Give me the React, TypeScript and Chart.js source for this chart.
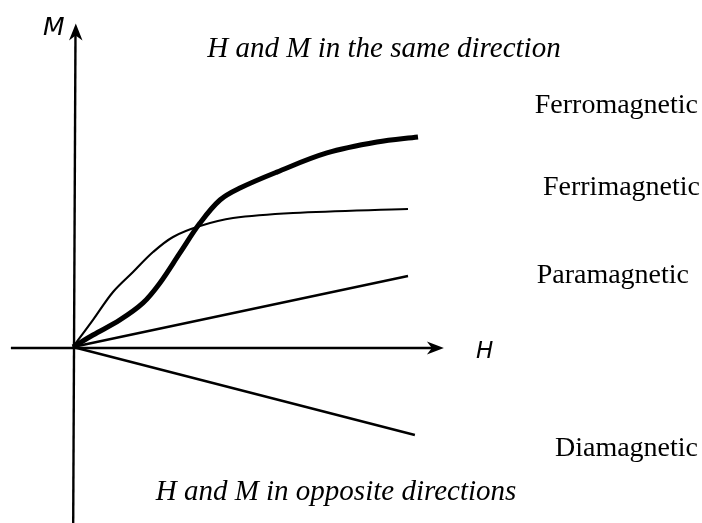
import React, { useEffect, useRef } from "react";
import { Chart, registerables } from "chart.js";

Chart.register(...registerables);

// H (field) and M (magnetization) in arbitrary units, origin at (0,0)
const ferroH = [0, 0.58, 1.36, 2.03, 2.52, 3.1, 3.68, 4.26, 4.84, 5.91, 7.36, 8.81, 10.0];
const ferroM = [0, 0.57, 1.29, 2.1, 3.05, 4.48, 5.9, 7.0, 7.57, 8.33, 9.24, 9.76, 10.0];
const ferriH = [0, 0.58, 1.16, 1.74, 2.32, 2.9, 3.68, 4.64, 6.38, 9.71];
const ferriM = [0, 1.29, 2.62, 3.57, 4.52, 5.24, 5.76, 6.14, 6.38, 6.57];
const paraH = [0, 9.71];
const paraM = [0, 3.38];
const diaH = [0, 9.91];
const diaM = [0, -4.19];

const seriesLabels = ["Ferromagnetic", "Ferrimagnetic", "Paramagnetic", "Diamagnetic"];
const topNote = "H and M in the same direction";
const bottomNote = "H and M in opposite directions";

const toPts = (xs: number[], ys: number[]) => xs.map((x, i) => ({ x, y: ys[i] }));

export default function App() {
  const ref = useRef<HTMLCanvasElement | null>(null);

  useEffect(() => {
    if (!ref.current) return;

    const overlay = {
      id: "overlay",
      afterDraw(chart: any) {
        const { ctx } = chart;
        const xs = chart.scales.x;
        const ys = chart.scales.y;
        const ox = xs.getPixelForValue(0);
        const oy = ys.getPixelForValue(0) + 1;
        ctx.save();
        ctx.strokeStyle = "#000";
        ctx.fillStyle = "#000";
        ctx.lineWidth = 2.4;
        // x axis
        const xl = xs.getPixelForValue(-1.8);
        const xr = xs.getPixelForValue(10.75);
        ctx.beginPath();
        ctx.moveTo(xl, oy);
        ctx.lineTo(xr - 6, oy);
        ctx.stroke();
        ctx.beginPath();
        ctx.moveTo(xr, oy);
        ctx.lineTo(xr - 17, oy - 6.5);
        ctx.lineTo(xr - 12, oy);
        ctx.lineTo(xr - 17, oy + 6.5);
        ctx.closePath();
        ctx.fill();
        // y axis
        const yt = ys.getPixelForValue(15.4);
        const yb = ys.getPixelForValue(-8.4);
        ctx.beginPath();
        ctx.moveTo(ox + 0.2, yb);
        ctx.lineTo(ox + 2.5, yt + 6);
        ctx.stroke();
        ctx.beginPath();
        ctx.moveTo(ox + 2.8, yt);
        ctx.lineTo(ox - 4, yt + 17);
        ctx.lineTo(ox + 2.6, yt + 12);
        ctx.lineTo(ox + 9.5, yt + 17);
        ctx.closePath();
        ctx.fill();

        // axis names
        ctx.textBaseline = "alphabetic";
        ctx.textAlign = "left";
        ctx.font = "italic 25px 'DejaVu Sans', sans-serif";
        ctx.fillText("M", 43, 35);
        ctx.font = "italic 23px 'DejaVu Sans', sans-serif";
        ctx.fillText("H", 476, 358);

        // notes
        ctx.font = "italic 29px 'Liberation Serif', serif";
        ctx.textAlign = "center";
        ctx.fillText(topNote, 384, 57);
        ctx.fillText(bottomNote, 336, 500);

        ctx.font = "28px 'Liberation Serif', serif";
        ctx.textAlign = "right";
        ctx.fillText(seriesLabels[0], 698, 113);
        ctx.fillText(seriesLabels[1], 700, 195);
        ctx.fillText(seriesLabels[2], 689, 283);
        ctx.fillText(seriesLabels[3], 698, 456);
        ctx.restore();
      },
    };

    const chart = new Chart(ref.current, {
      type: "scatter",
      data: {
        datasets: [
          {
            label: seriesLabels[0],
            data: toPts(ferroH, ferroM),
            showLine: true,
            borderColor: "#000",
            borderWidth: 5,
            pointRadius: 0,
            tension: 0.35,
          },
          {
            label: seriesLabels[1],
            data: toPts(ferriH, ferriM),
            showLine: true,
            borderColor: "#000",
            borderWidth: 2.1,
            pointRadius: 0,
            tension: 0.35,
          },
          {
            label: seriesLabels[2],
            data: toPts(paraH, paraM),
            showLine: true,
            borderColor: "#000",
            borderWidth: 2.4,
            pointRadius: 0,
          },
          {
            label: seriesLabels[3],
            data: toPts(diaH, diaM),
            showLine: true,
            borderColor: "#000",
            borderWidth: 2.4,
            pointRadius: 0,
          },
        ],
      },
      options: {
        responsive: false,
        animation: false,
        layout: { padding: 0 },
        plugins: { legend: { display: false }, tooltip: { enabled: false } },
        scales: {
          x: { type: "linear", display: false, min: -73 / 34.5, max: (702 - 73) / 34.5 },
          y: { type: "linear", display: false, min: -(523 - 347) / 21, max: 347 / 21 },
        },
      },
      plugins: [overlay],
    } as any);

    return () => chart.destroy();
  }, []);

  return (
    <div style={{ position: "absolute", left: 0, top: 0, width: 702, height: 523, background: "#fff" }}>
      <canvas ref={ref} width={702} height={523} />
    </div>
  );
}
